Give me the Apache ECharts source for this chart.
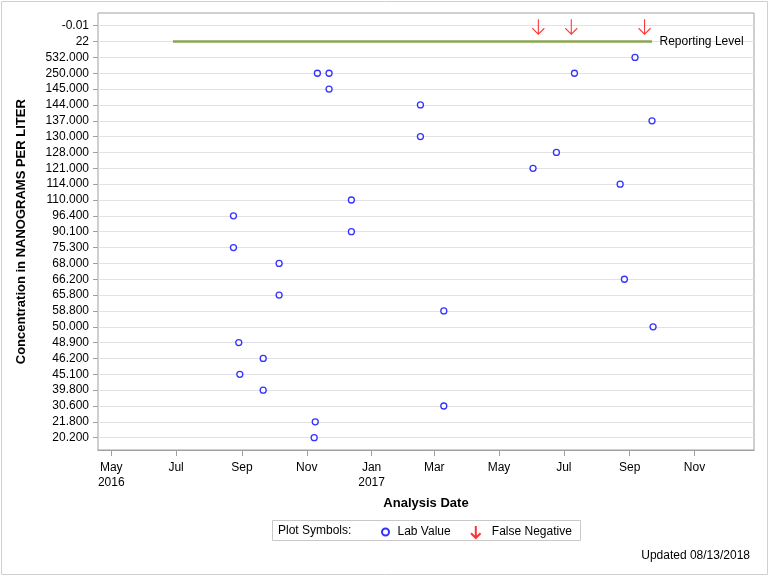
<!DOCTYPE html>
<html>
<head>
<meta charset="utf-8">
<script src="https://cdn.jsdelivr.net/npm/echarts@6/dist/echarts.min.js"></script>
<style>html,body{margin:0;padding:0;background:#fff}#c{width:768px;height:576px}</style>
</head>
<body>
<div id="c"></div>
<script>
// y-axis categories (bottom to top)
const categories = ['20.200','21.800','30.600','39.800','45.100','46.200','48.900','50.000','58.800','65.800','66.200','68.000','75.300','90.100','96.400','110.000','114.000','121.000','128.000','130.000','137.000','144.000','145.000','250.000','532.000','22','-0.01'];

// Lab values
const labDates = ['2017-09-06','2016-11-11','2016-11-22','2017-07-11','2016-11-22','2017-02-16','2017-09-22','2017-02-16','2017-06-24','2017-06-02','2017-08-23','2016-12-13','2016-08-24','2016-12-13','2016-08-24','2016-10-06','2017-08-27','2016-10-06','2017-03-10','2017-09-23','2016-08-29','2016-09-21','2016-08-30','2016-09-21','2017-03-10','2016-11-09','2016-11-08'];
const labValues = ['532.000','250.000','250.000','250.000','145.000','144.000','137.000','130.000','128.000','121.000','114.000','110.000','96.400','90.100','75.300','68.000','66.200','65.800','58.800','50.000','48.900','46.200','45.100','39.800','30.600','21.800','20.200'];

// False negatives
const fnDates = ['2017-06-07','2017-07-08','2017-09-15'];
const fnValues = ['-0.01','-0.01','-0.01'];

// Reporting level
const rlDates = ['2016-06-28','2017-09-22'];
const rlValues = ['22','22'];
const rlLabel = 'Reporting Level';

// X axis ticks
const tickDates = ['2016-05-01','2016-07-01','2016-09-01','2016-11-01','2017-01-01','2017-03-01','2017-05-01','2017-07-01','2017-09-01','2017-11-01'];
const tickLabels = ['May\n2016','Jul','Sep','Nov','Jan\n2017','Mar','May','Jul','Sep','Nov'];
const axisMin = '2016-04-18';
const axisMax = '2017-12-27';

function t(s){ const p = s.split('-').map(Number); return Date.UTC(p[0], p[1]-1, p[2]); }
const xMin = t(axisMin) + 12*3600*1000;
const xMax = t(axisMax);
const tickTs = tickDates.map(t);

const FONT = '"Liberation Sans", Arial, sans-serif';
const chart = echarts.init(document.getElementById('c'), null, {renderer:'canvas'});

const arrowPath = 'path://M6,0L6,15M0,9L6,15L12,9';

chart.setOption({
  backgroundColor: '#fff',
  animation: false,
  textStyle: { fontFamily: FONT },
  grid: [
    { left: 98, top: 13, width: 656, height: 437, show: true, borderColor: '#a0a0a0', borderWidth: 1, backgroundColor: 'transparent' },
    { left: 98, top: 25.7, width: 656, height: 412 }
  ],
  xAxis: [
    {
      type: 'value', gridIndex: 0, min: xMin, max: xMax,
      name: 'Analysis Date', nameLocation: 'middle', nameGap: 47,
      nameTextStyle: { fontWeight: 'bold', fontSize: 13, color: '#000', fontFamily: FONT },
      axisLine: { show: true, lineStyle: { color: '#a0a0a0' } },
      axisTick: { show: true, length: 6, lineStyle: { color: '#a0a0a0' }, customValues: tickTs },
      axisLabel: {
        customValues: tickTs, color: '#000', fontSize: 12, fontFamily: FONT, margin: 10, lineHeight: 15,
        showMinLabel: true, showMaxLabel: true,
        formatter: function (v) { const i = tickTs.indexOf(v); return i >= 0 ? tickLabels[i] : ''; }
      },
      splitLine: { show: false }
    },
    { type: 'value', gridIndex: 1, min: xMin, max: xMax, show: false }
  ],
  yAxis: [
    { type: 'value', gridIndex: 0, min: 0, max: 1, show: false },
    {
      type: 'category', gridIndex: 1, data: categories, boundaryGap: false,
      name: 'Concentration in NANOGRAMS PER LITER', nameLocation: 'middle', nameGap: 70,
      nameTextStyle: { fontWeight: 'bold', fontSize: 13, color: '#000', fontFamily: FONT },
      axisLine: { show: false },
      axisTick: { show: true, interval: 0, length: 5, lineStyle: { color: '#a0a0a0' } },
      axisLabel: { interval: 0, color: '#000', fontSize: 12, fontFamily: FONT, margin: 9 },
      splitLine: { show: true, interval: 0, lineStyle: { color: '#e2e2e2', width: 1 } }
    }
  ],
  legend: [
    {
      data: ['Lab Value'], left: 381, top: 526, itemWidth: 14, itemHeight: 7, itemGap: 0,
      padding: 0, selectedMode: false,
      textStyle: { fontSize: 12, color: '#000', fontFamily: FONT }
    },
    {
      data: ['False Negative'], left: 470, top: 525, itemWidth: 12, itemHeight: 12, itemGap: 0,
      padding: 0, selectedMode: false,
      textStyle: { fontSize: 12, color: '#000', fontFamily: FONT, padding: [0,0,0,5] }
    }
  ],
  graphic: [
    { type: 'rect', shape: { x: 1.5, y: 1.5, width: 766, height: 573 }, style: { fill: 'none', stroke: '#d0d0d0', lineWidth: 1 }, silent: true, z: -10 },
    { type: 'rect', shape: { x: 272.5, y: 520.5, width: 308, height: 20 }, style: { fill: 'none', stroke: '#c8c8c8', lineWidth: 1 }, silent: true },
    { type: 'text', left: 278, top: 525, style: { text: 'Plot Symbols:', fill: '#000', font: '12px ' + FONT } },
    { type: 'text', right: 18, top: 550, style: { text: 'Updated 08/13/2018', fill: '#000', font: '12px ' + FONT } }
  ],
  series: [
    {
      name: 'Reporting Level', type: 'line', xAxisIndex: 1, yAxisIndex: 1,
      data: rlDates.map((d, i) => [t(d), rlValues[i]]),
      symbol: 'none', lineStyle: { color: '#8aa64e', width: 2.5 },
      markPoint: {
        silent: true,
        data: [{
          coord: [t(rlDates[1]), rlValues[1]], symbol: 'circle', symbolSize: 1,
          itemStyle: { color: 'rgba(0,0,0,0)' },
          label: { show: true, position: 'right', distance: 7, formatter: rlLabel, color: '#000', fontSize: 12, fontFamily: FONT }
        }]
      },
      z: 2, silent: true
    },
    {
      name: 'Lab Value', type: 'scatter', xAxisIndex: 1, yAxisIndex: 1,
      data: labDates.map((d, i) => [t(d), labValues[i]]),
      symbol: 'circle', symbolSize: 6,
      itemStyle: { color: '#fff', borderColor: '#0000ff', borderWidth: 1.3 },
      z: 3
    },
    {
      name: 'False Negative', type: 'scatter', xAxisIndex: 1, yAxisIndex: 1,
      data: fnDates.map((d, i) => [t(d), fnValues[i]]),
      symbol: arrowPath, symbolSize: [12, 15], symbolOffset: [0, 1],
      itemStyle: { color: 'rgba(0,0,0,0)', borderColor: '#ff0000', borderWidth: 1.2 },
      z: 3
    }
  ]
});
</script>
</body>
</html>
